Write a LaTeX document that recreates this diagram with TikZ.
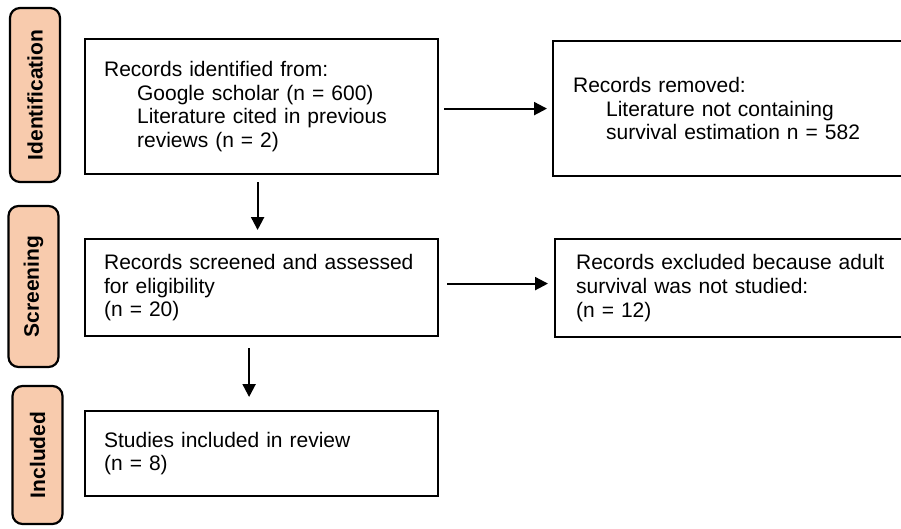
\documentclass[tikz,border=0pt]{standalone}
\usepackage{fontspec}
\setmainfont{Liberation Sans}
\usetikzlibrary{arrows.meta}
\definecolor{phasefill}{RGB}{248,203,173}

\begin{document}
\begin{tikzpicture}[x=1pt, y=-1pt,
    phase/.style={draw=black, line width=2.2pt, fill=phasefill, rounded corners=10pt,
        rotate=90, minimum height=50pt, inner sep=0pt,
        font=\fontsize{21}{24}\selectfont\bfseries},
    box/.style={draw=black, line width=2.2pt, anchor=north west, align=left,
        inner xsep=19pt, inner ysep=0pt, font=\fontsize{21}{23.7}\selectfont},
    arr/.style={-{Triangle[length=13pt,width=13pt]}, line width=2.2pt}]
    \clip (0,0) rectangle (901,528);

    % Phases on the left
    \node[phase, minimum width=174pt] (pid) at (35,95) {Identification};
    \node[phase, minimum width=161pt] (pscr) at (33.5,286.5) {Screening};
    \node[phase, minimum width=138pt] (pinc) at (37.5,455) {Included};

    % Left column
    \node[box, text width=315pt, minimum height=135pt] (ident) at (84,38)
        {Records identified from:\\
         \hspace*{33pt}Google scholar (n = 600)\\
         \hspace*{33pt}Literature cited in previous\\
         \hspace*{33pt}reviews (n = 2)};
    \node[box, text width=315pt, minimum height=97pt] (screen) at (84,238)
        {Records screened and assessed\\ for eligibility\\ (n = 20)};
    \node[box, text width=315pt, minimum height=85pt] (incl) at (84,410)
        {Studies included in review\\ (n = 8)};

    % Right column (runs off the right edge)
    \node[box, inner xsep=20pt, text width=380pt, minimum height=135pt] (removed) at (552,40)
        {Records removed:\\
         \hspace*{33pt}Literature not containing\\
         \hspace*{33pt}survival estimation n = 582};
    \node[box, inner xsep=21pt, text width=380pt, minimum height=98pt] (excl) at (554,238)
        {Records excluded because adult\\ survival was not studied:\\ (n = 12)};

    % Arrows
    \draw[arr, shorten <=5pt, shorten >=5pt] (ident.east |- removed.west) -- (removed.west);
    \draw[arr, shorten <=7pt, shorten >=8pt] ([xshift=-4pt]ident.south) -- ([xshift=-4pt]screen.north);
    \draw[arr, shorten <=8pt, shorten >=6pt] ([yshift=4pt]screen.east) -- ([yshift=4pt]screen.east -| excl.west);
    \draw[arr, shorten <=11pt, shorten >=13pt] ([xshift=-12.5pt]screen.south) -- ([xshift=-12.5pt]incl.north);
\end{tikzpicture}
\end{document}
